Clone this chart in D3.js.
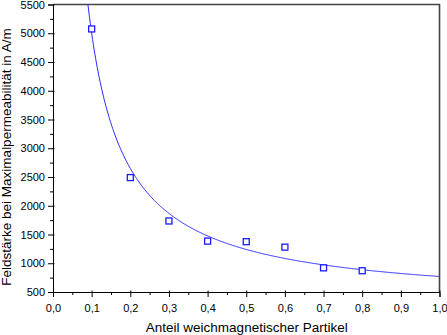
<!DOCTYPE html>
<html>
<head>
<meta charset="utf-8">
<script src="https://cdn.jsdelivr.net/npm/d3@7"></script>
<style>
  body { margin: 0; background: #fff; }
  text { font-family: "Liberation Sans", Arial, sans-serif; fill: #000; }
</style>
</head>
<body>
<script>
// measured points
let anteil = [0.1, 0.2, 0.3, 0.4, 0.5, 0.6, 0.7, 0.8];
let feldstaerke = [5075, 2490, 1735, 1385, 1375, 1280, 920, 870];

// fit: y = A / x + C
let fitA = 470;
let fitC = 300;

let xTicks = [0, 0.1, 0.2, 0.3, 0.4, 0.5, 0.6, 0.7, 0.8, 0.9, 1.0];
let yTicks = [500, 1000, 1500, 2000, 2500, 3000, 3500, 4000, 4500, 5000, 5500];

let W = 447, H = 335;
let mLeft = 53, mRight = 439.5, mTop = 4.5, mBottom = 292;

let svg = d3.select("body").append("svg")
    .attr("width", W)
    .attr("height", H);

let x = d3.scaleLinear().domain([0, 1]).range([mLeft, mRight]);
let y = d3.scaleLinear().domain([500, 5500]).range([mBottom, mTop]);

let fmt = d => d3.format(".1f")(d).replace(".", ",");

// frame top + right
svg.append("path")
    .attr("d", "M" + mLeft + "," + mTop + "H" + mRight + "V" + mBottom)
    .attr("fill", "none")
    .attr("stroke", "#444")
    .attr("stroke-width", 1.6);

// x axis
let xAxis = svg.append("g").attr("transform", "translate(0," + mBottom + ")");
xAxis.call(d3.axisBottom(x).tickValues(xTicks).tickFormat(fmt).tickSize(5).tickPadding(7));
xAxis.selectAll(".tick line").attr("y1", -1.5);
xAxis.append("g").call(d3.axisBottom(x).tickValues(d3.range(0.05, 1, 0.1)).tickFormat("").tickSize(3))
    .select(".domain").remove();
xAxis.selectAll("text").attr("font-size", 11).attr("font-family", "Liberation Sans, Arial, sans-serif");

// y axis
let yAxis = svg.append("g").attr("transform", "translate(" + mLeft + ",0)");
yAxis.call(d3.axisLeft(y).tickValues(yTicks).tickFormat(d3.format("d")).tickSize(5).tickPadding(3));
yAxis.selectAll(".tick line").attr("x1", 1.5);
yAxis.append("g").call(d3.axisLeft(y).tickValues(d3.range(750, 5500, 500)).tickFormat("").tickSize(3))
    .select(".domain").remove();
yAxis.selectAll("text").attr("font-size", 11).attr("font-family", "Liberation Sans, Arial, sans-serif");

svg.selectAll(".domain").attr("stroke", "#000");
svg.selectAll(".tick line").attr("stroke", "#000");

// axis titles
svg.append("text")
    .attr("x", (mLeft + mRight) / 2 + 0.5)
    .attr("y", 332)
    .attr("text-anchor", "middle")
    .attr("font-size", 13.5)
    .text("Anteil weichmagnetischer Partikel");

svg.append("text")
    .attr("transform", "translate(11,157) rotate(-90)")
    .attr("text-anchor", "middle")
    .attr("font-size", 13.5)
    .text("Feldstärke bei Maximalpermeabilität in A/m");

// fit curve
let xStart = fitA / (5500 - fitC);
let curveX = d3.range(xStart, 1.0001, 0.002);
let line = d3.line().x(d => x(d)).y(d => y(fitA / d + fitC));
svg.append("path")
    .datum(curveX)
    .attr("d", line)
    .attr("fill", "none")
    .attr("stroke", "#2a2aff")
    .attr("stroke-width", 1);

// markers
let s = 6;
svg.selectAll(".pt").data(anteil)
    .enter()
    .append("rect")
    .attr("class", "pt")
    .attr("x", (d) => x(d) - s / 2)
    .attr("y", (d, i) => y(feldstaerke[i]) - s / 2)
    .attr("width", s)
    .attr("height", s)
    .attr("fill", "#fff")
    .attr("stroke", "#1a1aff")
    .attr("stroke-width", 1.3);
</script>
</body>
</html>
